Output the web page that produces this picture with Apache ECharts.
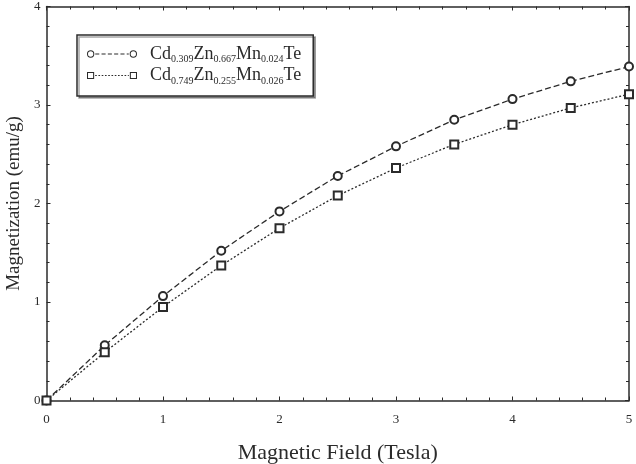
<!DOCTYPE html>
<html>
<head>
<meta charset="utf-8">
<script src="https://cdn.jsdelivr.net/npm/echarts@6/dist/echarts.min.js"></script>
<style>
  html, body { margin: 0; padding: 0; background: #fff; }
  #main { width: 636px; height: 464px; }
</style>
</head>
<body>
<div id="main"></div>
<script>
// magnetic field (Tesla)
var fieldValues = [0, 0.5, 1, 1.5, 2, 2.5, 3, 3.5, 4, 4.5, 5];
// magnetization (emu/g)
var sample1Values = [0, 0.56, 1.06, 1.52, 1.92, 2.28, 2.58, 2.85, 3.06, 3.24, 3.39];
var sample2Values = [0, 0.49, 0.95, 1.37, 1.75, 2.08, 2.36, 2.60, 2.80, 2.97, 3.11];
var sample1Name = 'Cd0.309Zn0.667Mn0.024Te';
var sample2Name = 'Cd0.749Zn0.255Mn0.026Te';
var sample1Parts = ['Cd', '0.309', 'Zn', '0.667', 'Mn', '0.024', 'Te'];
var sample2Parts = ['Cd', '0.749', 'Zn', '0.255', 'Mn', '0.026', 'Te'];

var ink = '#2b2b2b';
var serif = '"Liberation Serif", "DejaVu Serif", serif';

function toPairs(xs, ys) {
  var out = [];
  for (var i = 0; i < xs.length; i++) {
    out.push([xs[i], ys[i]]);
  }
  return out;
}

// legend sample: marker - dashes - marker
function ring(cx, cy) {
  return 'M' + (cx - 3.6) + ' ' + cy + ' A3.6 3.6 0 1 1 ' + (cx + 3.6) + ' ' + cy +
    ' A3.6 3.6 0 1 1 ' + (cx - 3.6) + ' ' + cy + ' Z ' +
    'M' + (cx - 2.6) + ' ' + cy + ' A2.6 2.6 0 1 0 ' + (cx + 2.6) + ' ' + cy +
    ' A2.6 2.6 0 1 0 ' + (cx - 2.6) + ' ' + cy + ' Z ';
}
function box(cx, cy) {
  return 'M' + (cx - 3.5) + ' ' + (cy - 3.5) + ' H' + (cx + 3.5) + ' V' + (cy + 3.5) + ' H' + (cx - 3.5) + ' Z ' +
    'M' + (cx - 2.5) + ' ' + (cy - 2.5) + ' V' + (cy + 2.5) + ' H' + (cx + 2.5) + ' V' + (cy - 2.5) + ' Z ';
}
function dashes(from, to, dash, gap) {
  var p = '';
  for (var x = from; x < to; x += dash + gap) {
    var w = Math.min(dash, to - x);
    p += 'M' + x + ' 3.45 h' + w + ' v1.1 h' + (-w) + ' Z ';
  }
  return p;
}
var icon1 = 'path://' + ring(4, 4) + dashes(8.5, 41.5, 4, 2.2) + ring(46, 4);
var icon2 = 'path://' + box(4, 4) + dashes(8.5, 41.5, 1.6, 1.6) + box(46, 4);

function legendLabel(parts) {
  return '{g|}{n|' + parts[0] + '}{s|' + parts[1] + '}{n|' + parts[2] + '}{s|' + parts[3] +
    '}{n|' + parts[4] + '}{s|' + parts[5] + '}{n|' + parts[6] + '}';
}

var chart = echarts.init(document.getElementById('main'));

var tickStyle = {
  axisLine: { show: true, onZero: false, lineStyle: { color: ink, width: 1.5 } },
  axisTick: { show: true, inside: true, length: 4, lineStyle: { color: ink, width: 1 } },
  minorTick: { show: true, splitNumber: 5, length: 3, lineStyle: { color: ink, width: 1 } },
  splitLine: { show: false },
  minorSplitLine: { show: false }
};

var option = {
  backgroundColor: '#fff',
  animation: false,
  grid: { left: 46.5, right: 7, top: 6.5, bottom: 63.5, outerBoundsMode: 'none', containLabel: false },
  legend: {
    orient: 'vertical',
    left: 77,
    top: 35,
    padding: [10, 12, 10, 10],
    itemGap: 2,
    itemWidth: 50,
    itemHeight: 8,
    borderColor: ink,
    borderWidth: 1.5,
    shadowColor: 'rgba(0,0,0,0.35)',
    shadowOffsetX: 2,
    shadowOffsetY: 2,
    shadowBlur: 0,
    backgroundColor: '#fff',
    selectedMode: false,
    itemStyle: { color: ink, borderWidth: 0 },
    data: [
      { name: sample1Name, icon: icon1 },
      { name: sample2Name, icon: icon2 }
    ],
    formatter: function (name) {
      return legendLabel(name === sample1Name ? sample1Parts : sample2Parts);
    },
    textStyle: {
      rich: {
        g: { width: 8 },
        n: { fontFamily: serif, fontSize: 18, color: ink },
        s: { fontFamily: serif, fontSize: 10, color: ink, padding: [11, 0, 0, 0] }
      }
    }
  },
  xAxis: [
    Object.assign({
      type: 'value',
      min: 0,
      max: 5,
      interval: 1,
      name: 'Magnetic Field (Tesla)',
      nameLocation: 'middle',
      nameGap: 42,
      nameTextStyle: { fontFamily: serif, fontSize: 22, color: ink },
      axisLabel: { fontFamily: serif, fontSize: 13, color: ink, margin: 13 }
    }, tickStyle),
    Object.assign({
      type: 'value',
      position: 'top',
      min: 0,
      max: 5,
      interval: 1,
      axisLabel: { show: false }
    }, tickStyle)
  ],
  yAxis: [
    Object.assign({
      type: 'value',
      min: 0,
      max: 4,
      interval: 1,
      name: 'Magnetization (emu/g)',
      nameLocation: 'middle',
      nameGap: 20,
      nameTextStyle: { fontFamily: serif, fontSize: 19, color: ink },
      axisLabel: { fontFamily: serif, fontSize: 13, color: ink, margin: 6 }
    }, tickStyle),
    Object.assign({
      type: 'value',
      position: 'right',
      min: 0,
      max: 4,
      interval: 1,
      axisLabel: { show: false }
    }, tickStyle)
  ],
  series: [
    {
      name: sample1Name,
      type: 'line',
      symbol: 'emptyCircle',
      symbolSize: 8,
      color: ink,
      lineStyle: { color: ink, width: 1.3, type: [6, 3] },
      itemStyle: { color: ink, borderWidth: 1.2 },
      data: toPairs(fieldValues, sample1Values)
    },
    {
      name: sample2Name,
      type: 'line',
      symbol: 'emptyRect',
      symbolSize: 8,
      color: ink,
      lineStyle: { color: ink, width: 1.3, type: [2, 2] },
      itemStyle: { color: ink, borderWidth: 1.2 },
      data: toPairs(fieldValues, sample2Values)
    }
  ]
};

chart.setOption(option);
</script>
</body>
</html>
